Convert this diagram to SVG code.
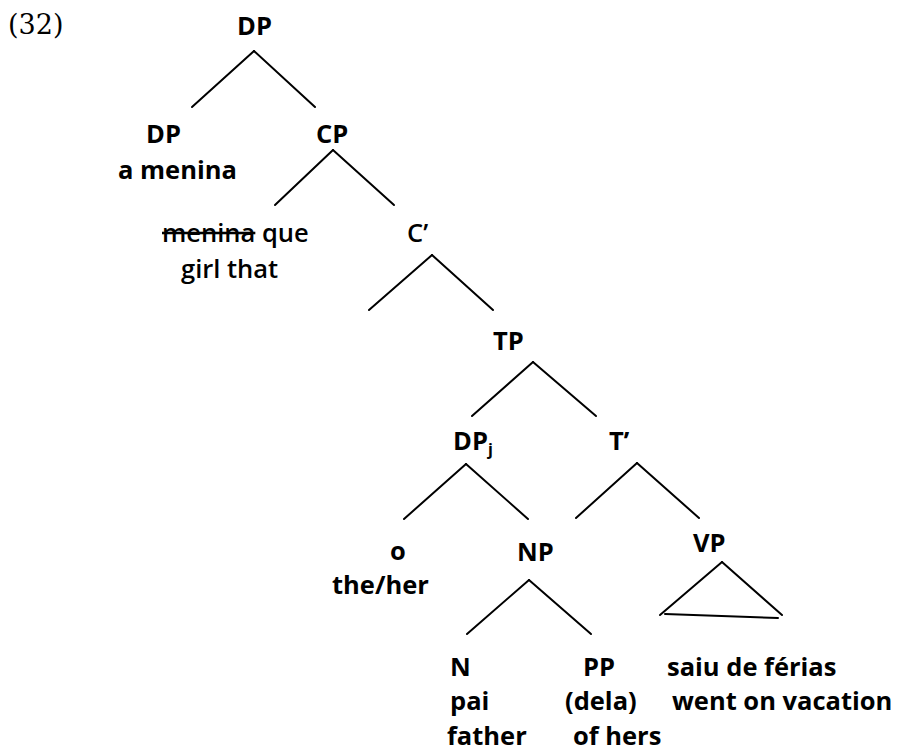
<svg xmlns="http://www.w3.org/2000/svg" width="897" height="753" viewBox="0 0 897 753">
<style>
text{font-family:"Open Sans","Liberation Sans",sans-serif;font-size:25.5px;font-weight:bold;fill:#000}
.m{font-weight:600}
.ex{font-family:"DejaVu Serif","Liberation Serif",serif;font-weight:normal;font-size:27px}
.sub{font-size:16px}
#connectors line{stroke:#000;stroke-width:2;stroke-linecap:round}
</style>
<rect width="897" height="753" fill="#fff"/>
<text class="ex" x="8" y="34">(32)</text>
<g id="connectors">
<line x1="254" y1="51" x2="192" y2="107"/>
<line x1="254" y1="51" x2="315" y2="107"/>
<line x1="333" y1="150" x2="275" y2="205"/>
<line x1="333" y1="150" x2="394" y2="205"/>
<line x1="432" y1="255" x2="369" y2="310"/>
<line x1="432" y1="255" x2="493" y2="310"/>
<line x1="533" y1="362" x2="472" y2="416"/>
<line x1="533" y1="362" x2="596" y2="416"/>
<line x1="466" y1="464" x2="404" y2="519"/>
<line x1="466" y1="464" x2="528" y2="519"/>
<line x1="637" y1="463" x2="576" y2="518"/>
<line x1="637" y1="463" x2="699" y2="518"/>
<line x1="529" y1="580" x2="467" y2="634"/>
<line x1="529" y1="580" x2="591" y2="634"/>
<line x1="722" y1="562" x2="660" y2="615"/>
<line x1="722" y1="562" x2="782" y2="615"/>
<line x1="665" y1="614" x2="778" y2="618"/>
</g>
<g id="dp-root"><text x="237" y="35">DP</text></g>
<g id="dp-left"><text x="146" y="143">DP</text><text x="118" y="179">a menina</text></g>
<g id="cp"><text x="316" y="143">CP</text></g>
<g id="spec-cp"><text class="m" x="162" y="242"><tspan text-decoration="line-through">menina</tspan> que</text><text class="m" x="181" y="278">girl that</text></g>
<g id="c-bar"><text class="m" x="407" y="242">C’</text></g>
<g id="tp"><text x="493" y="350">TP</text></g>
<g id="dpj"><text x="453" y="450">DP<tspan class="sub" dy="5">j</tspan></text></g>
<g id="t-bar"><text x="609" y="450">T’</text></g>
<g id="d-o"><text x="390" y="560">o</text><text x="332" y="594">the/her</text></g>
<g id="np"><text x="517" y="561">NP</text></g>
<g id="vp"><text x="693" y="552">VP</text></g>
<g id="n"><text x="450" y="676">N</text><text x="450" y="710">pai</text><text x="447" y="745">father</text></g>
<g id="pp"><text x="583" y="676">PP</text><text x="565" y="710">(dela)</text><text x="573" y="745">of hers</text></g>
<g id="vp-content"><text x="667" y="676">saiu de férias</text><text x="672" y="710">went on vacation</text></g>
</svg>
